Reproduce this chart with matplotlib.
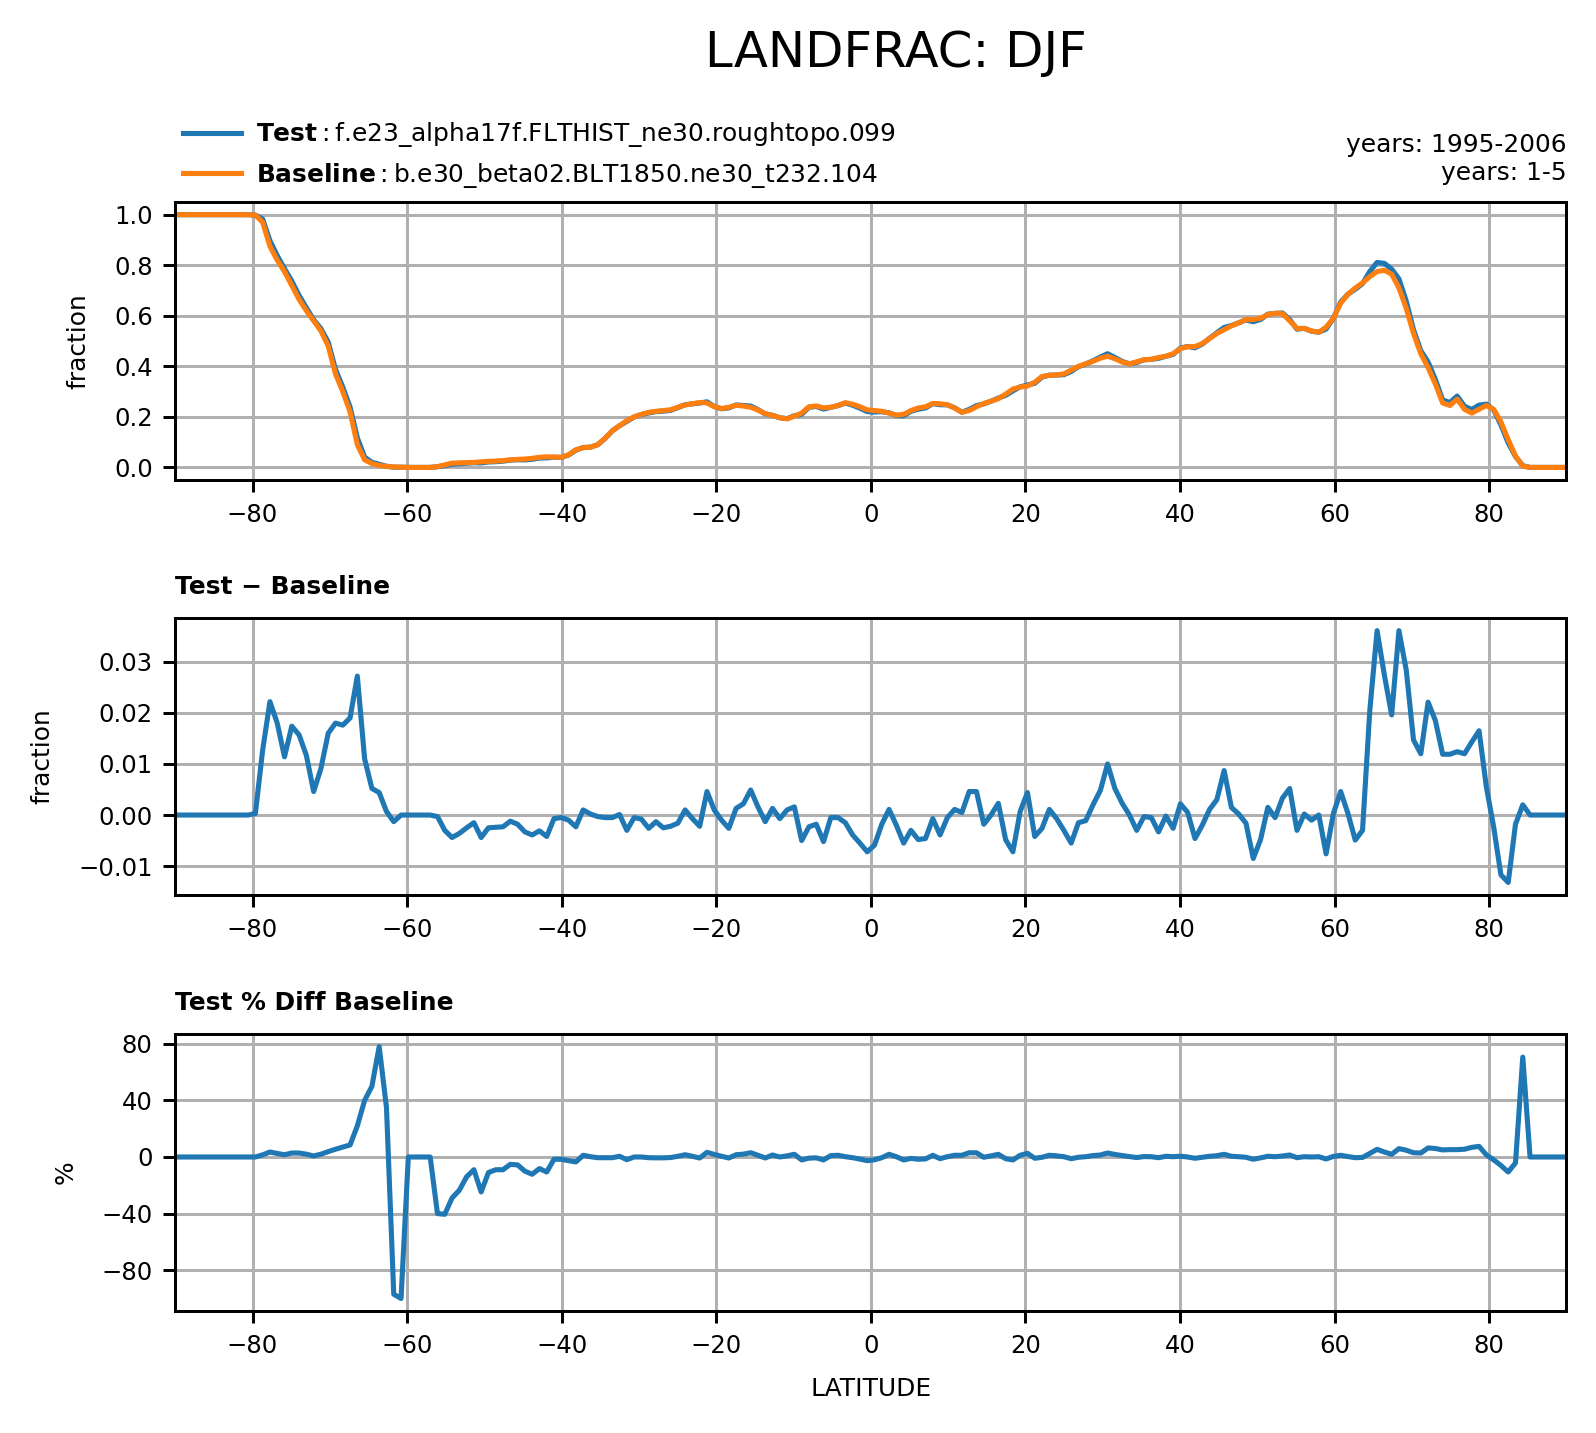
import numpy as np
import matplotlib
matplotlib.use("Agg")
import matplotlib.pyplot as plt

# latitude grid (192 points, -90..90)
lat = np.linspace(-90, 90, 192)

baseline = [
    1.0, 1.0, 1.0, 1.0, 1.0, 1.0, 1.0, 1.0, 1.0, 1.0, 1.0, 0.998,
    0.97, 0.875, 0.82, 0.775, 0.72, 0.665, 0.62, 0.58, 0.54, 0.48, 0.37, 0.30,
    0.22, 0.09, 0.03, 0.015, 0.008, 0.004, 0.002, 0.001, 0.0, 0.0, 0.0, 0.0,
    0.003, 0.01, 0.017, 0.018, 0.019, 0.02, 0.022, 0.024, 0.025, 0.027, 0.03, 0.032,
    0.033, 0.036, 0.04, 0.042, 0.041, 0.04, 0.05, 0.07, 0.078, 0.08, 0.09, 0.115,
    0.145, 0.165, 0.185, 0.2, 0.21, 0.218, 0.222, 0.225, 0.228, 0.238, 0.247, 0.252,
    0.257, 0.255, 0.24, 0.233, 0.238, 0.246, 0.243, 0.238, 0.227, 0.213, 0.205, 0.197,
    0.192, 0.203, 0.215, 0.24, 0.243, 0.236, 0.238, 0.245, 0.256, 0.25, 0.24, 0.228,
    0.225, 0.222, 0.215, 0.207, 0.21, 0.225, 0.235, 0.24, 0.253, 0.252, 0.248, 0.235,
    0.218, 0.225, 0.24, 0.253, 0.262, 0.272, 0.29, 0.31, 0.318, 0.322, 0.337, 0.36,
    0.364, 0.366, 0.37, 0.385, 0.4, 0.41, 0.42, 0.432, 0.44, 0.43, 0.417, 0.41,
    0.418, 0.426, 0.428, 0.435, 0.44, 0.45, 0.47, 0.478, 0.478, 0.49, 0.51, 0.53,
    0.545, 0.56, 0.572, 0.585, 0.585, 0.59, 0.605, 0.61, 0.608, 0.58, 0.55, 0.55,
    0.54, 0.535, 0.555, 0.59, 0.65, 0.685, 0.71, 0.73, 0.755, 0.775, 0.78, 0.765,
    0.71, 0.63, 0.53, 0.45, 0.395, 0.33, 0.255, 0.245, 0.27, 0.23, 0.215, 0.23,
    0.245, 0.23, 0.18, 0.11, 0.045, 0.005, 0.0, 0.0, 0.0, 0.0, 0.0, 0.0,
]

diff = [
    0, 0, 0, 0, 0, 0, 0, 0, 0, 0, 0, 0.0003,
    0.0127, 0.0222, 0.018, 0.0114, 0.0174, 0.0157, 0.0117, 0.0046, 0.0091, 0.016, 0.018, 0.0176,
    0.019, 0.0272, 0.011, 0.0052, 0.0044, 0.0007, -0.0013, 0, 0, 0, 0, 0,
    -0.0003, -0.003, -0.0044, -0.0036, -0.0025, -0.0015, -0.0044, -0.0025, -0.0024, -0.0023, -0.0012, -0.0018,
    -0.0033, -0.0039, -0.0031, -0.0042, -0.0007, -0.0005, -0.001, -0.0023, 0.001, 0.0002, -0.0003, -0.0005,
    -0.0005, 0.0001, -0.003, -0.0005, -0.0008, -0.0026, -0.0013, -0.0025, -0.0022, -0.0016, 0.001, -0.0007,
    -0.0022, 0.0046, 0.001, -0.001, -0.0026, 0.0013, 0.0022, 0.0049, 0.0016, -0.0013, 0.0013, -0.0007,
    0.001, 0.0016, -0.005, -0.0023, -0.0018, -0.0052, -0.0005, -0.0005, -0.0015, -0.0039, -0.0055, -0.0072,
    -0.0059, -0.0018, 0.0011, -0.002, -0.0055, -0.003, -0.0048, -0.0046, -0.0007, -0.0039, -0.0005, 0.0011,
    0.0005, 0.0046, 0.0046, -0.0018, 0, 0.0023, -0.0048, -0.0072, 0.0007, 0.0044, -0.0042, -0.0026,
    0.0011, -0.0007, -0.003, -0.0055, -0.0015, -0.0011, 0.002, 0.0048, 0.01, 0.0052, 0.0023, 0,
    -0.003, -0.0003, -0.0005, -0.0033, -0.0002, -0.0026, 0.0022, 0.0005, -0.0046, -0.002, 0.0011, 0.003,
    0.0087, 0.0015, 0.0002, -0.0016, -0.0085, -0.0048, 0.0015, -0.0005, 0.0033, 0.0052, -0.003, 0.0002,
    -0.001, 0, -0.0076, 0.0003, 0.0046, 0.0003, -0.0049, -0.003, 0.0205, 0.0361, 0.0274, 0.0196,
    0.0361, 0.0284, 0.0147, 0.012, 0.0221, 0.0185, 0.0119, 0.0119, 0.0124, 0.012, 0.0143, 0.0165,
    0.0055, -0.0023, -0.0117, -0.0132, -0.0018, 0.002, 0, 0, 0, 0, 0, 0,
]

pct_diff = [
    0, 0, 0, 0, 0, 0, 0, 0, 0, 0, 0, 0.0,
    1.5, 3.5, 2.5, 1.6, 2.8, 2.8, 2.0, 0.7, 2.0, 3.8, 5.5, 7.0,
    8.5, 22, 40, 50, 78, 35, -97, -100, 0, 0, 0, 0,
    -40, -40.5, -29, -23.5, -14, -9, -24.7, -11, -9, -9, -5.2, -5.6,
    -10, -12.2, -8.2, -10.6, -1.6, -1.6, -2.6, -3.5, 1.2, 0.2, -0.5, -0.5,
    -0.5, 0.5, -1.9, 0, 0, -0.5, -0.6, -0.6, -0.4, 0.5, 1.6, 0.5,
    -0.7, 3.3, 1.8, 0.5, -0.7, 1.6, 2.0, 3.0, 1.2, -0.7, 1.4, 0,
    0.8, 1.9, -2.1, -0.8, -0.6, -2.1, 1.0, 1.2, 0.2, -0.5, -1.5, -2.6,
    -2.0, -0.5, 1.9, 0.2, -2.1, -1.0, -1.6, -1.4, 1.2, -1.2, 0.2, 1.2,
    1.2, 3.0, 3.0, -0.2, 0.8, 1.9, -1.2, -2.1, 1.2, 2.6, -0.9, -0.2,
    1.2, 0.8, 0.2, -1.2, -0.2, 0.2, 1.0, 1.4, 2.8, 1.8, 1.0, 0.3,
    -0.4, 0.3, 0.2, -0.5, 0.5, 0.2, 0.5, 0, -0.9, -0.2, 0.5, 0.9,
    1.9, 0.5, 0.2, -0.2, -1.6, -0.6, 0.5, 0.2, 0.7, 1.4, -0.5, 0.2,
    0, 0.2, -1.4, 0.4, 1.2, 0.3, -0.5, -0.3, 2.5, 5.4, 3.5, 1.9,
    5.9, 4.8, 3.0, 2.8, 6.4, 6.0, 5.0, 5.2, 5.2, 5.5, 6.8, 7.5,
    1.5, -2.0, -6.0, -10.6, -4.2, 70.6, 0, 0, 0, 0, 0, 0,
]

test = np.array(baseline) + np.array(diff)

xticks = [-80, -60, -40, -20, 0, 20, 40, 60, 80]
test_name = "f.e23_alpha17f.FLTHIST_ne30.roughtopo.099"
base_name = "b.e30_beta02.BLT1850.ne30_t232.104"

DPI = 216
FS = 8.3
fig = plt.figure(figsize=(1596 / DPI, 1433 / DPI), dpi=DPI)

left, width = 0.1098, 0.8717
ax1 = fig.add_axes([left, 0.665, width, 0.194])
ax2 = fig.add_axes([left, 0.3754, width, 0.1933])
ax3 = fig.add_axes([left, 0.0851, width, 0.1933])

LW = 1.7
ax1.plot(lat, test, color="#1f77b4", lw=LW, label=r"$\mathbf{Test}:$" + test_name)
ax1.plot(lat, baseline, color="#ff7f0e", lw=LW, label=r"$\mathbf{Baseline}:$" + base_name)
ax2.plot(lat, diff, color="#1f77b4", lw=LW)
ax3.plot(lat, pct_diff, color="#1f77b4", lw=LW)

for ax in (ax1, ax2, ax3):
    ax.set_xlim(-90, 90)
    ax.set_xticks(xticks)
    ax.grid(True, color="#b0b0b0", lw=1.0)
    ax.set_axisbelow(True)
    ax.tick_params(labelsize=8.1, length=4, width=1.0)
    for s in ax.spines.values():
        s.set_linewidth(1.0)

ax1.set_yticks([0.0, 0.2, 0.4, 0.6, 0.8, 1.0])
ax2.set_yticks([-0.01, 0.0, 0.01, 0.02, 0.03])
ax3.set_yticks([-80, -40, 0, 40, 80])

ax1.set_ylabel("fraction", fontsize=FS, labelpad=8)
ax2.set_ylabel("fraction", fontsize=FS, labelpad=8)
ax3.set_ylabel("%", fontsize=FS, labelpad=8)
ax3.set_xlabel("LATITUDE", fontsize=FS, labelpad=6.5)

ax2.set_title("Test \u2212 Baseline", loc="left", fontsize=FS, fontweight="bold", pad=8)
ax3.set_title("Test % Diff Baseline", loc="left", fontsize=FS, fontweight="bold", pad=8)

ax1.legend(loc="lower left", bbox_to_anchor=(0.0058, 1.045), frameon=False,
           fontsize=FS, borderpad=0, borderaxespad=0, handlelength=2.3,
           handletextpad=0.6, labelspacing=0.45)

ax1.text(1.0, 1.061, "years: 1995-2006\nyears: 1-5", transform=ax1.transAxes,
         ha="right", va="bottom", multialignment="right", fontsize=FS)

fig.text(0.5612, 0.9535, "LANDFRAC: DJF", ha="center", va="baseline", fontsize=16.6)

fig.savefig("out.png", dpi=DPI)
